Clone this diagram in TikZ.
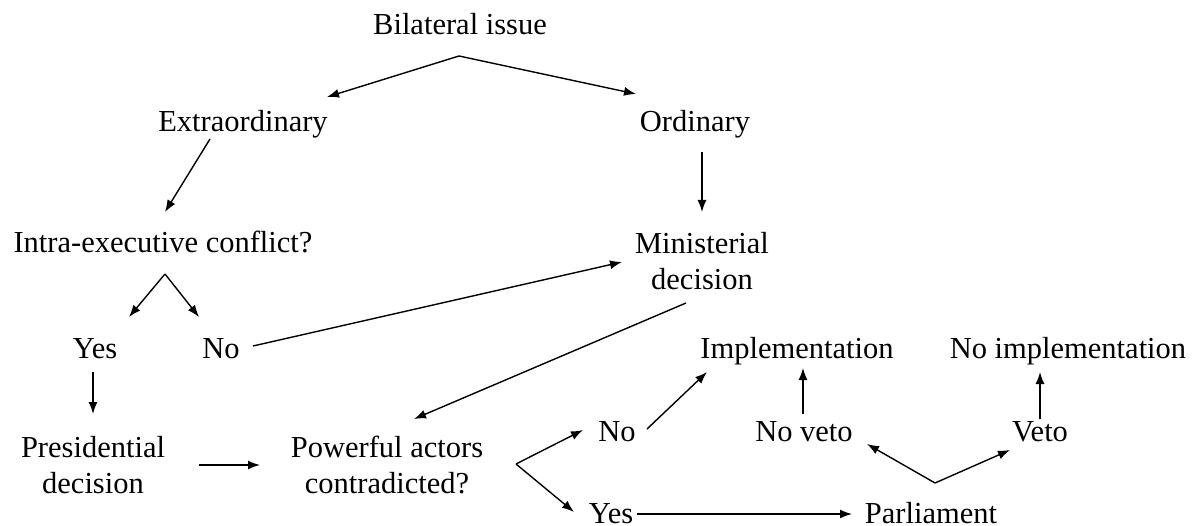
\documentclass[tikz,border=0pt]{standalone}
\usepackage{fontspec}
\setmainfont{Liberation Serif}
\usetikzlibrary{arrows.meta}
\tikzset{
  lbl/.style={anchor=base, inner sep=0pt, font=\fontsize{30.5}{36}\selectfont, align=center},
  arr/.style={-{Latex[length=12pt,width=9pt]}, line width=1.4pt}
}
\begin{document}
\begin{tikzpicture}[x=1pt,y=-1pt]
\useasboundingbox (0,0) rectangle (1201,526);
% nodes (base anchor = baseline of last line)
\node[lbl] (bil) at (460,35) {Bilateral issue};
\node[lbl] (ext) at (243,132) {Extraordinary};
\node[lbl] (ord) at (695,132) {Ordinary};
\node[lbl] (intra) at (163,253) {Intra-executive conflict?};
\node[lbl] (min) at (702,290) {Ministerial\\decision};
\node[lbl] (yes1) at (95,358) {Yes};
\node[lbl] (no1) at (221,358) {No};
\node[lbl] (impl) at (797,358) {Implementation};
\node[lbl] (noimpl) at (1068,358) {No implementation};
\node[lbl] (pres) at (93,493) {Presidential\\decision};
\node[lbl] (pow) at (387,493) {Powerful actors\\contradicted?};
\node[lbl] (no2) at (617,441) {No};
\node[lbl] (noveto) at (804,441) {No veto};
\node[lbl] (veto) at (1040,441) {Veto};
\node[lbl] (yes2) at (611,523) {Yes};
\node[lbl] (parl) at (931,523) {Parliament};
% connector points
\coordinate (bilF) at (459,56);
\coordinate (extIn) at (327,97);
\coordinate (ordIn) at (636,94);
\coordinate (extOut) at (210,139);
\coordinate (intraIn) at (165,212);
\coordinate (ordOut) at (702,152);
\coordinate (minIn) at (702,212);
\coordinate (intraF) at (165,274);
\coordinate (yes1In) at (129,317);
\coordinate (no1In) at (199,317);
\coordinate (no1Out) at (253,346);
\coordinate (minIn2) at (622,262);
\coordinate (minOut) at (686,303);
\coordinate (powIn) at (414,419);
\coordinate (yes1Out) at (93,372);
\coordinate (presIn) at (93,414);
\coordinate (presOut) at (199,465);
\coordinate (powIn2) at (260,465);
\coordinate (powF) at (516,464);
\coordinate (no2In) at (583,430);
\coordinate (yes2In) at (574,512);
\coordinate (no2Out) at (647,429);
\coordinate (implIn) at (707,372);
\coordinate (yes2Out) at (637,514);
\coordinate (parlIn) at (852,514);
\coordinate (parlF) at (935,483);
\coordinate (novetoIn) at (867,444);
\coordinate (vetoIn) at (1010,450);
\coordinate (novetoOut) at (803,414);
\coordinate (implIn2) at (803,368);
\coordinate (vetoOut) at (1040,419);
\coordinate (noimplIn) at (1040,372);
% connectors
\draw[arr] (bilF) -- (extIn);
\draw[arr] (bilF) -- (ordIn);
\draw[arr] (extOut) -- (intraIn);
\draw[arr] (ordOut) -- (minIn);
\draw[arr] (intraF) -- (yes1In);
\draw[arr] (intraF) -- (no1In);
\draw[arr] (no1Out) -- (minIn2);
\draw[arr] (minOut) -- (powIn);
\draw[arr] (yes1Out) -- (presIn);
\draw[arr] (presOut) -- (powIn2);
\draw[arr] (powF) -- (no2In);
\draw[arr] (powF) -- (yes2In);
\draw[arr] (no2Out) -- (implIn);
\draw[arr] (yes2Out) -- (parlIn);
\draw[arr] (parlF) -- (novetoIn);
\draw[arr] (parlF) -- (vetoIn);
\draw[arr] (novetoOut) -- (implIn2);
\draw[arr] (vetoOut) -- (noimplIn);
\end{tikzpicture}
\end{document}
